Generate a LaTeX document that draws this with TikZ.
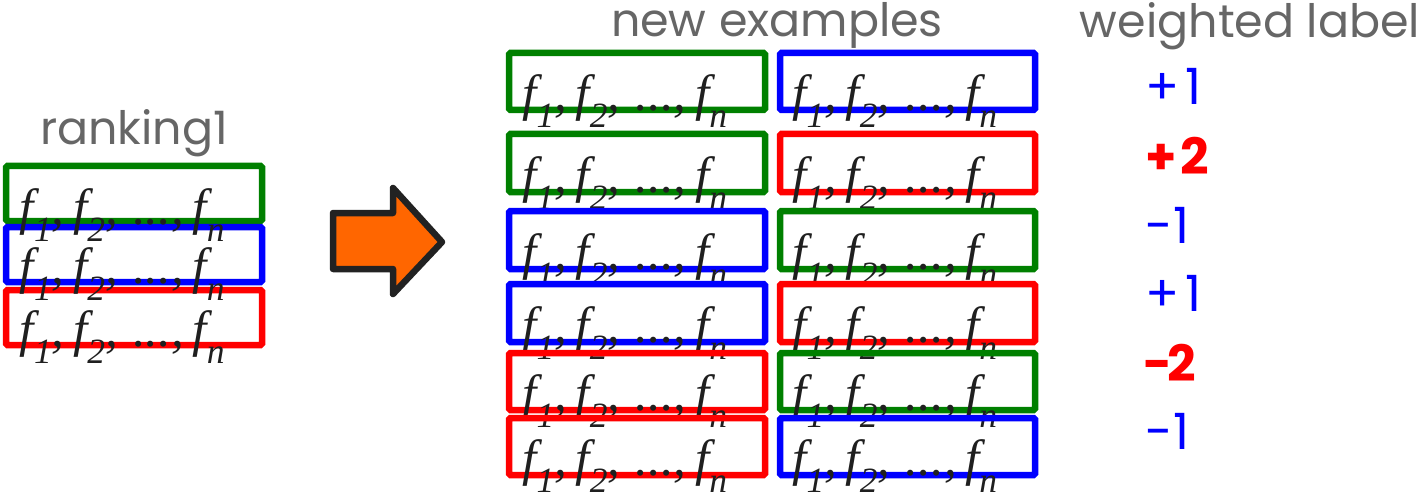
\documentclass[tikz,border=0pt]{standalone}
\usepackage{fontspec}
\newfontfamily\popfont{Poppins}
\newfontfamily\tmsfont{Liberation Serif}
\definecolor{fgreen}{RGB}{0,128,0}
\definecolor{fblue}{RGB}{0,0,255}
\definecolor{fred}{RGB}{255,0,0}
\definecolor{tgray}{RGB}{102,102,102}
\definecolor{aorange}{RGB}{255,102,0}
\definecolor{adark}{RGB}{34,34,34}
\newcommand{\fsub}[1]{\raisebox{-17pt}{\fontsize{35.5}{35.5}\selectfont #1}}
\newcommand{\fvec}{\tmsfont\fontsize{51}{51}\selectfont\itshape f\fsub{1},\kern8.5pt f\fsub{2},\kern15.5pt .\kern0pt.\kern0pt.,\kern8.5pt f\fsub{n}}
\tikzset{
  featbox/.style={draw=#1, line width=6.5pt, rounded corners=1.5pt, rectangle, inner sep=0pt, minimum width=256pt},
  feattext/.style={anchor=base west, inner sep=0pt, text=black!88},
  title/.style={anchor=base, inner sep=0pt, text=tgray, font=\popfont\fontsize{46}{46}\selectfont},
  wlabel/.style={anchor=base west, inner sep=0pt, text=#1, font=\popfont\fontsize{50}{50}\selectfont},
  wlabelb/.style={anchor=base west, inner sep=0pt, text=#1, font=\popfont\bfseries\fontsize{50}{50}\selectfont},
}
\begin{document}
\begin{tikzpicture}[x=1pt,y=-1pt]
\useasboundingbox (0,0) rectangle (1422,492);
% titles
\node[title] (rk) at (134,145) {ranking1};
\node[title] (ne) at (777,37) {new examples};
\node[title] (wl) at (1250,38) {weighted label};
% left stack
\node[featbox=fgreen, minimum height=55pt] (L1) at (134,193.5) {};
\node[featbox=fblue, minimum height=55pt] (L2) at (134,254.5) {};
\node[featbox=fred, minimum height=55pt] (L3) at (134,317.5) {};
\node[feattext] (tL1) at ([xshift=17pt,yshift=-0.5pt]L1.south west) {\fvec};
\node[feattext] (tL2) at ([xshift=17pt,yshift=1.7pt]L2.south west) {\fvec};
\node[feattext] (tL3) at ([xshift=17pt,yshift=1.7pt]L3.south west) {\fvec};
% arrow
\draw[adark, fill=aorange, line width=6.5pt, line join=round]
  (333,213) -- (393,213) -- (393,188) -- (442,242) -- (393,294) -- (393,269) -- (333,269) -- cycle;
% right columns
\foreach \r/\y/\h/\ca/\cb in {1/81.5/57/fgreen/fblue, 2/163/58/fgreen/fred, 3/240/58/fblue/fgreen, 4/313/58/fblue/fred, 5/381.5/57/fred/fgreen, 6/446.5/57/fred/fblue}{
  \node[featbox=\ca, minimum height=\h pt] (A\r) at (637,\y) {};
  \node[featbox=\cb, minimum height=\h pt, minimum width=255pt] (B\r) at (907.5,\y) {};
  \node[feattext] (tA\r) at ([xshift=16.5pt,yshift=3pt]A\r.south west) {\fvec};
  \node[feattext] (tB\r) at ([xshift=15.5pt,yshift=3pt]B\r.south west) {\fvec};
}
% weighted labels
\node[wlabel=fblue] (w1) at (1145,105) {+\kern6pt 1};
\node[wlabelb=fred] (w2) at (1145,175) {+\kern4pt 2};
\node[wlabel=fblue] (w3) at (1145,243) {-\kern1pt 1};
\node[wlabel=fblue] (w4) at (1145,311) {+\kern6pt 1};
\node[wlabelb=fred] (w5) at (1143,381) {-\kern-5pt 2};
\node[wlabel=fblue] (w6) at (1145,449) {-\kern1pt 1};
\end{tikzpicture}
\end{document}
